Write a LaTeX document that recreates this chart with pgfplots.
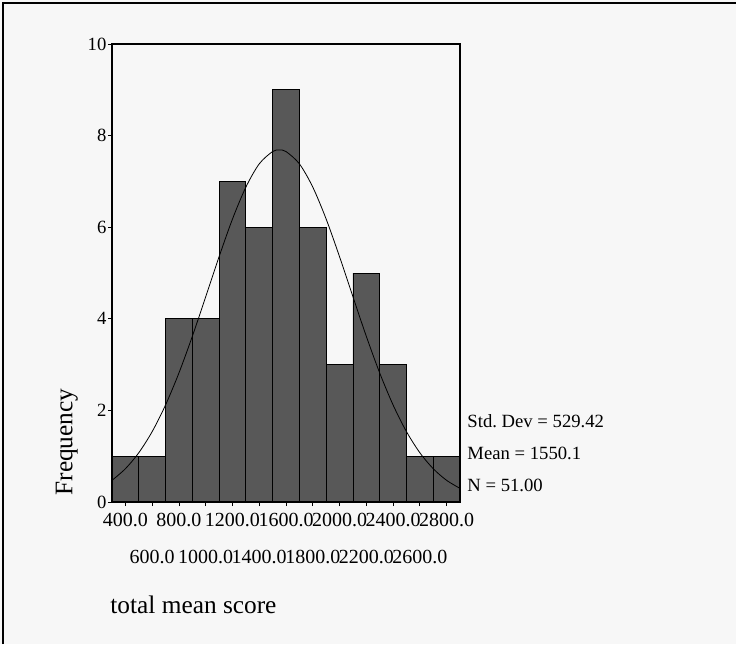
\documentclass[border=0pt]{standalone}
\usepackage{fontspec}
\setmainfont{Liberation Serif}
\usepackage{pgfplots}
\pgfplotsset{compat=1.18}
\definecolor{barfill}{RGB}{88,88,88}
\frenchspacing
\begin{document}
\begin{tikzpicture}[x=1pt,y=1pt]
\useasboundingbox (0,0) rectangle (552,483);
\fill[black!3] (0,0) rectangle (552,483);
\draw[line width=1.5pt] (2.5,0) -- (2.5,480.5) -- (552,480.5);
\begin{axis}[
  at={(84pt,106.5pt)}, anchor=south west,
  scale only axis, width=261pt, height=343.5pt,
  xmin=300, xmax=2900, ymin=0, ymax=10,
  axis on top, clip=false,
  axis line style={line width=1pt},
  tick align=outside, tick pos=left,
  major tick length=3pt,
  tick style={black, line width=0.6pt},
  xtick={400,800,1200,1600,2000,2400,2800},
  xticklabels={400.0,800.0,1200.0,1600.0,2000.0,2400.0,2800.0},
  extra x ticks={600,1000,1400,1800,2200,2600},
  extra x tick labels={600.0,1000.0,1400.0,1800.0,2200.0,2600.0},
  extra x tick style={xticklabel style={yshift=-28pt}},
  xticklabel style={font=\fontsize{15}{17}\selectfont, inner sep=1pt, yshift=-4pt},
  ytick={0,2,4,6,8,10},
  /pgf/number format/assume math mode=true,
  yticklabel style={font=\fontsize{14}{16}\selectfont, inner sep=1pt},
  xlabel={total mean score},
  xlabel style={at={(axis description cs:-0.018,-0.225)}, anchor=west, font=\fontsize{19}{22}\selectfont},
  ylabel={Frequency},
  ylabel style={at={(axis description cs:-0.13,0.131)}, anchor=center, font=\fontsize{19}{22}\selectfont},
]
\addplot[ybar interval, fill=barfill, draw=black, line width=0.6pt] coordinates {
  (300,1) (500,1) (700,4) (900,4) (1100,7) (1300,6) (1500,9)
  (1700,6) (1900,3) (2100,5) (2300,3) (2500,1) (2700,1) (2900,0)
};
\addplot[black, line width=0.6pt, smooth] coordinates {
  (300,0.473) (400,0.726) (500,1.075) (600,1.536) (700,2.118) (800,2.817)
  (900,3.616) (1000,4.479) (1100,5.355) (1200,6.177) (1300,6.874)
  (1400,7.383) (1500,7.652) (1550,7.686) (1600,7.652) (1700,7.384)
  (1800,6.876) (1900,6.178) (2000,5.356) (2100,4.482) (2200,3.618)
  (2300,2.818) (2400,2.119) (2500,1.537) (2600,1.076) (2700,0.727)
  (2800,0.473) (2900,0.298)
};
\node[anchor=west, font=\fontsize{14}{16}\selectfont] at (axis description cs:1.008,0.177) {Std. Dev = 529.42};
\node[anchor=west, font=\fontsize{14}{16}\selectfont] at (axis description cs:1.008,0.105) {Mean = 1550.1};
\node[anchor=west, font=\fontsize{14}{16}\selectfont] at (axis description cs:1.008,0.037) {N = 51.00};
\end{axis}
\end{tikzpicture}
\end{document}
